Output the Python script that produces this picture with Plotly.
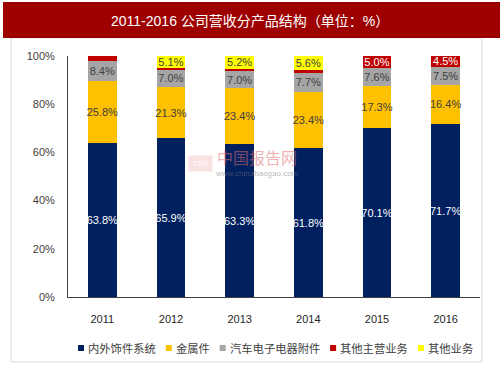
import plotly.graph_objects as go

years = ["2011", "2012", "2013", "2014", "2015", "2016"]
interior = [63.8, 65.9, 63.3, 61.8, 70.1, 71.7]
metal = [25.8, 21.3, 23.4, 23.4, 17.3, 16.4]
electronics = [8.4, 7.0, 7.0, 7.7, 7.6, 7.5]
other_main = [2.0, 0.7, 1.1, 1.5, 5.0, 4.5]
other_biz = [0.0, 5.1, 5.2, 5.6, 0.0, 0.0]

series_names = ["内外饰件系统", "金属件", "汽车电子电器附件", "其他主营业务", "其他业务"]
colors = ["#002060", "#FFC000", "#A5A5A5", "#C00000", "#FFFF00"]
text_colors = ["#FFFFFF", "#404040", "#404040", "#FFFFFF", "#404040"]
min_label = 3.0

CJK = '"Noto Sans CJK SC", "Noto Sans", sans-serif'
LAT = '"Liberation Sans", Arial, sans-serif'
TITLE = '"Liberation Sans Narrow", "Liberation Sans", "Noto Sans CJK SC", sans-serif'

W, H = 503, 378
L, R, T, B = 68, 23, 56, 81
pw, ph = W - L - R, H - T - B

def px(x):
    return (x - L) / pw

def py(y):
    return (H - B - y) / ph

fig = go.Figure()
for name, vals, col, tc in zip(series_names, [interior, metal, electronics, other_main, other_biz], colors, text_colors):
    labels = [f"{v:.1f}%" if v >= min_label else "" for v in vals]
    fig.add_trace(go.Bar(
        x=years, y=vals, name=name,
        marker=dict(color=col, line=dict(width=0)),
        text=labels, textposition="inside", insidetextanchor="middle",
        textangle=0, constraintext="none",
        textfont=dict(color=tc, size=11, family='"Liberation Sans Narrow", ' + LAT),
        hoverinfo="x+y+name", showlegend=False,
    ))

shapes = [
    dict(type="rect", xref="paper", yref="paper",
         x0=px(11), x1=px(482), y0=py(362), y1=py(38),
         line=dict(color="#D9D9D9", width=1), fillcolor="rgba(0,0,0,0)", layer="below"),
    dict(type="rect", xref="paper", yref="paper",
         x0=px(3), x1=px(500), y0=py(38), y1=py(2),
         line=dict(width=0), fillcolor="#9E0000", layer="above"),
]
annotations = [
    dict(text="2011-2016 公司营收分产品结构（单位：%）", xref="paper", yref="paper",
         x=px(250), y=py(21), xanchor="center", yanchor="middle", showarrow=False,
         font=dict(size=14, color="white", family=TITLE)),
    dict(text="中国报告网", xref="paper", yref="paper",
         x=px(257), y=py(157), xanchor="center", yanchor="middle", showarrow=False,
         font=dict(size=16, color="rgba(225,110,110,0.55)", family=CJK)),
    dict(text="www.chinabaogao.com", xref="paper", yref="paper",
         x=px(257), y=py(173), xanchor="center", yanchor="middle", showarrow=False,
         font=dict(size=8, color="rgba(120,120,120,0.55)", family=LAT)),
    dict(text="CBG", xref="paper", yref="paper",
         x=px(200), y=py(163), xanchor="center", yanchor="middle", showarrow=False,
         bgcolor="rgba(230,140,140,0.25)", borderpad=4,
         font=dict(size=7, color="rgba(255,255,255,0.95)", family=LAT)),
]
leg_font = 11.3
x0 = 78
ly = 348
for name, col in zip(series_names, colors):
    shapes.append(dict(type="rect", xref="paper", yref="paper",
                       x0=px(x0), x1=px(x0 + 6), y0=py(ly + 3), y1=py(ly - 3),
                       line=dict(width=0), fillcolor=col))
    annotations.append(dict(text=name, xref="paper", yref="paper",
                            x=px(x0 + 8), y=py(ly), xanchor="left", yanchor="middle",
                            showarrow=False, font=dict(size=leg_font, color="#404040", family=CJK)))
    x0 = x0 + 9 + len(name) * leg_font + 11

fig.update_layout(
    width=W, height=H,
    margin=dict(l=L, r=R, t=T, b=B, autoexpand=False),
    barmode="stack", bargap=0.58,
    plot_bgcolor="white", paper_bgcolor="white",
    font=dict(family=CJK, color="#404040"),
    showlegend=False,
    xaxis=dict(showline=True, linecolor="#404040", linewidth=1, ticks="",
               tickfont=dict(size=11, color="#262626", family=LAT),
               showgrid=False, ticklabelstandoff=12, automargin=False),
    yaxis=dict(range=[0, 100], dtick=20, ticksuffix="%", showgrid=False,
               showline=True, linecolor="#404040", linewidth=1, ticks="",
               tickfont=dict(size=11, color="#404040", family=LAT),
               ticklabelstandoff=10, zeroline=False, automargin=False),
    shapes=shapes,
    annotations=annotations,
)

fig.write_html("out.html", config={"displayModeBar": False},
               post_script="document.body.style.margin='0';")
